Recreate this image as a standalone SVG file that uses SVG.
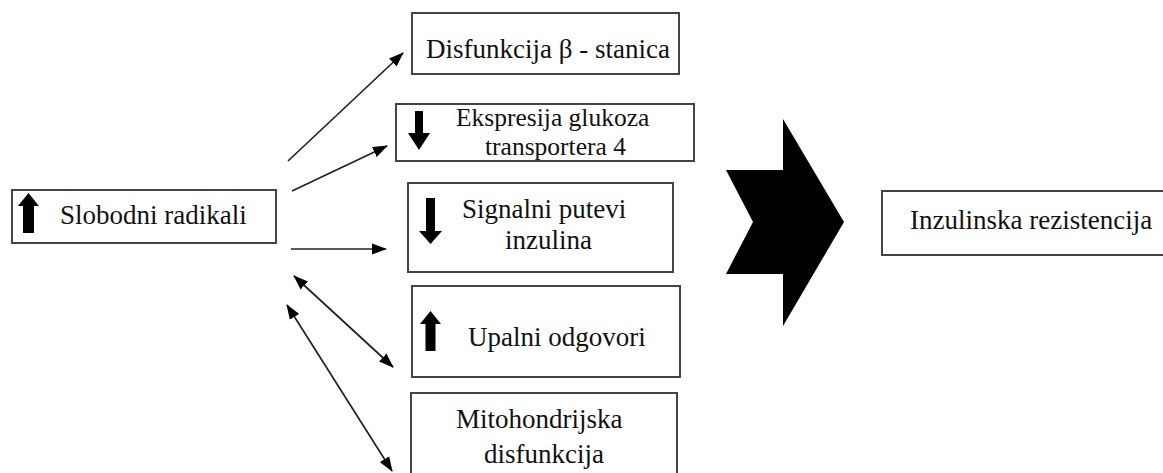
<svg xmlns="http://www.w3.org/2000/svg" width="1163" height="473" viewBox="0 0 1163 473">
  <style>
    .box { fill: #fff; stroke: #444; stroke-width: 2; }
    .t { font-family: 'Liberation Serif', 'Times New Roman', serif; font-size: 27px; fill: #111; }
    .t2 { font-family: 'Liberation Serif', 'Times New Roman', serif; font-size: 25.5px; fill: #111; }
    .blk { fill: #000; }
    .con { stroke: #222; stroke-width: 1.7; fill: none; }
  </style>
  <defs>
    <marker id="ah" markerUnits="userSpaceOnUse" markerWidth="15" markerHeight="12" refX="14" refY="6" orient="auto-start-reverse">
      <path d="M0,0.5 L15,6 L0,11.5 z" fill="#000"/>
    </marker>
  </defs>
  <rect width="1163" height="473" fill="#fff"/>

  <g id="slobodni">
    <rect class="box" x="12" y="190" width="264" height="53"/>
    <path class="blk" d="M28.5,193 L39,206 L34,206 L34,233 L23,233 L23,206 L18,206 z"/>
    <text class="t" x="60" y="224">Slobodni radikali</text>
  </g>

  <g id="beta">
    <rect class="box" x="412" y="13" width="267" height="61"/>
    <text class="t" x="426" y="58">Disfunkcija β - stanica</text>
  </g>

  <g id="glut4">
    <rect class="box" x="396" y="104" width="298" height="57"/>
    <path class="blk" d="M415,111 L423,111 L423,133 L430,133 L419,150 L408,133 L415,133 z"/>
    <text class="t2" x="456" y="126">Ekspresija glukoza</text>
    <text class="t2" x="485" y="155">transportera 4</text>
  </g>

  <g id="signalni">
    <rect class="box" x="408" y="183" width="265" height="89"/>
    <path class="blk" d="M426,198 L435,198 L435,231 L442,231 L430.5,244 L419,231 L426,231 z"/>
    <text class="t" x="462" y="218">Signalni putevi</text>
    <text class="t" x="505" y="249">inzulina</text>
  </g>

  <g id="upalni">
    <rect class="box" x="412" y="286" width="268" height="91"/>
    <path class="blk" d="M430.5,311 L441,324 L435.5,324 L435.5,351 L425.5,351 L425.5,324 L420,324 z"/>
    <text class="t" x="468" y="346">Upalni odgovori</text>
  </g>

  <g id="mito">
    <rect class="box" x="411" y="393" width="266" height="90"/>
    <text class="t" x="456" y="428">Mitohondrijska</text>
    <text class="t" x="484" y="463">disfunkcija</text>
  </g>

  <g id="chevron">
    <path class="blk" d="M783,119 L844,222 L783,326 L783,274 L726,274 L753,222 L726,170 L783,170 z"/>
  </g>

  <g id="inzulinska">
    <rect class="box" x="882" y="191" width="290" height="64"/>
    <text class="t" x="910" y="229">Inzulinska rezistencija</text>
  </g>

  <g id="connectors">
    <line class="con" x1="288" y1="161" x2="403" y2="53" marker-end="url(#ah)"/>
    <line class="con" x1="292" y1="191" x2="387" y2="146" marker-end="url(#ah)"/>
    <line class="con" x1="291" y1="249" x2="386" y2="249" marker-end="url(#ah)"/>
    <line class="con" x1="294" y1="276" x2="393" y2="367" marker-start="url(#ah)" marker-end="url(#ah)"/>
    <line class="con" x1="287" y1="305" x2="392" y2="471" marker-start="url(#ah)" marker-end="url(#ah)"/>
  </g>
</svg>
